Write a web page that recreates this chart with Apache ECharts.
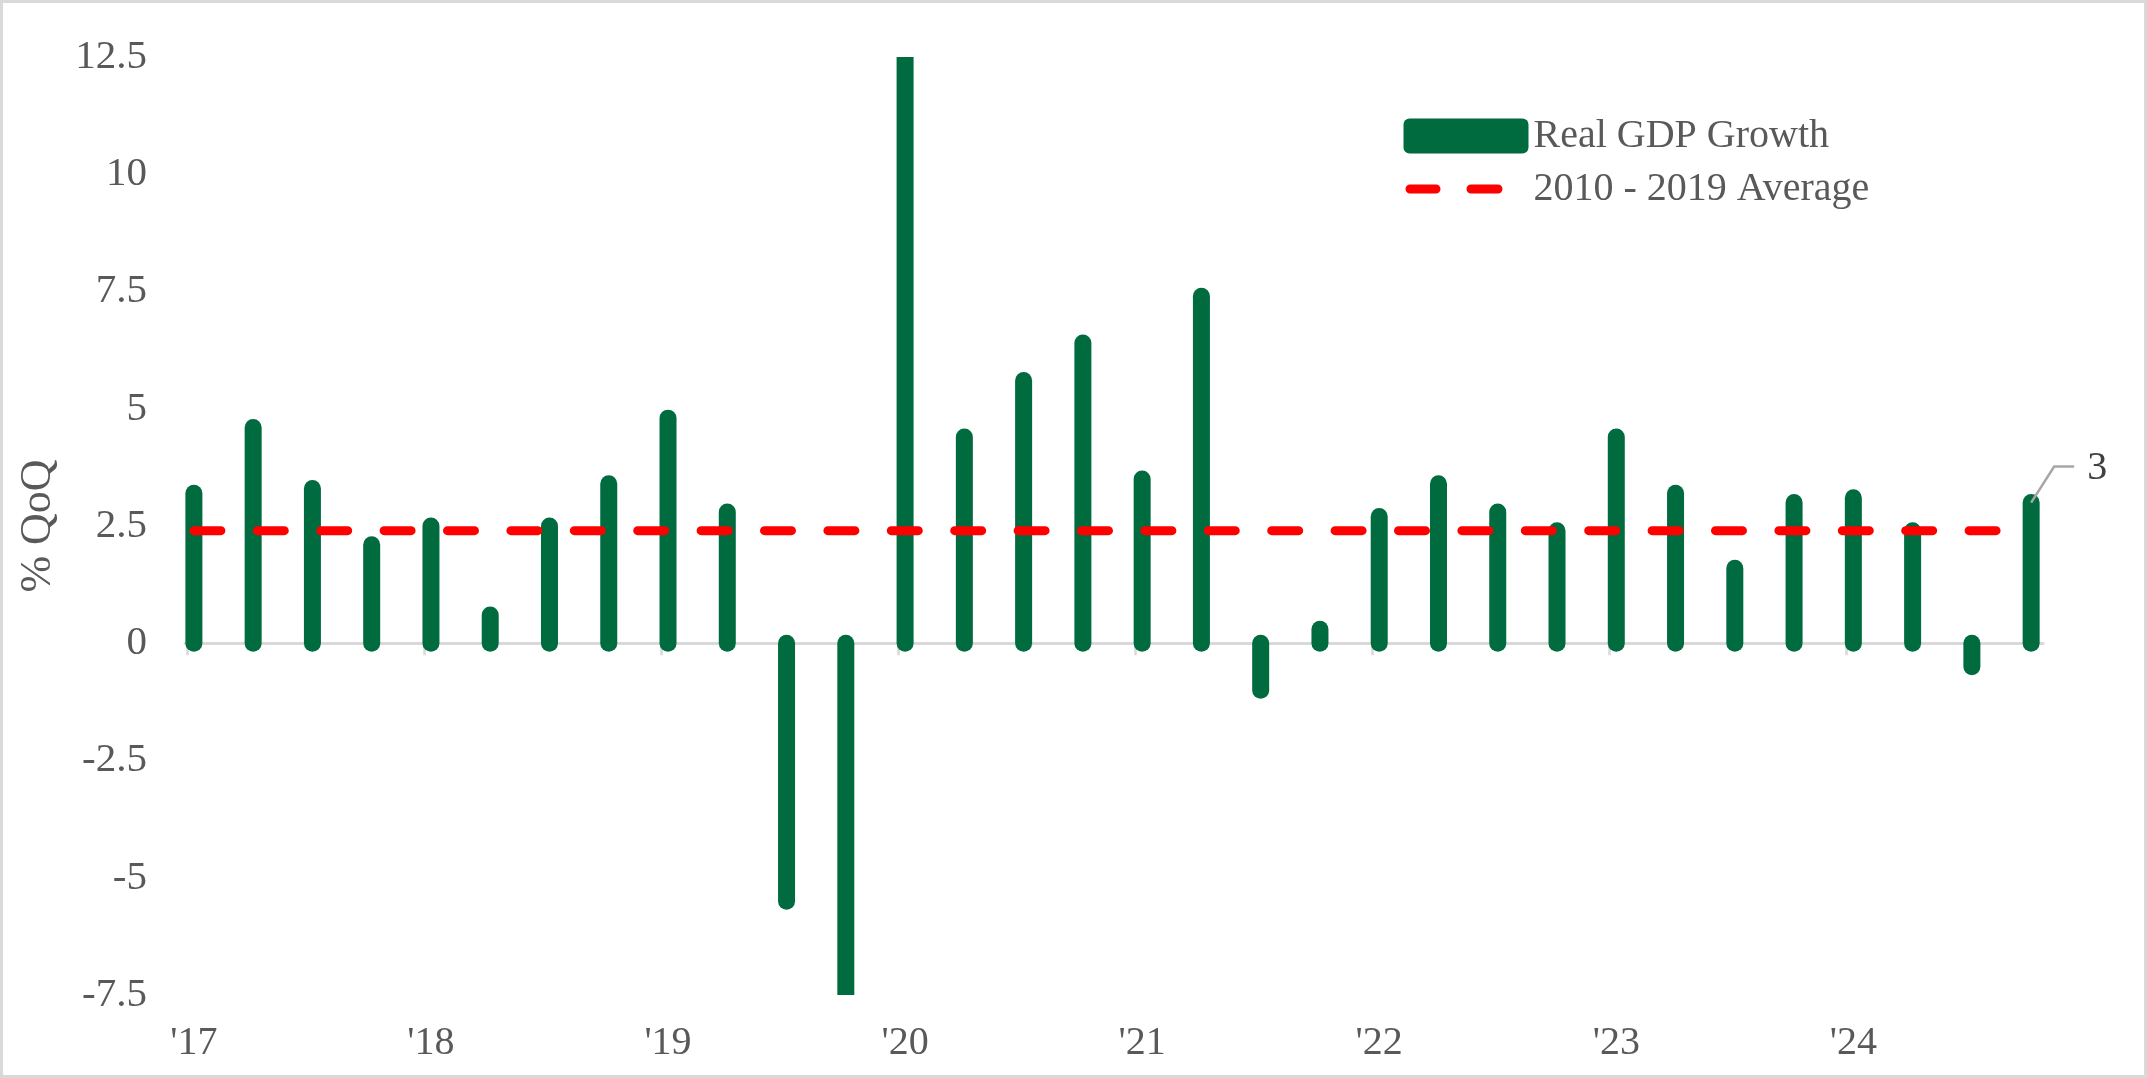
<!DOCTYPE html>
<html>
<head>
<meta charset="utf-8">
<script src="https://cdn.jsdelivr.net/npm/echarts@6/dist/echarts.min.js"></script>
<style>
  html, body { margin: 0; padding: 0; background: #fff; }
  #gdp { width: 2147px; height: 1078px; box-shadow: inset 0 0 0 3px #d9d9d9; }
</style>
</head>
<body>
<div id="gdp"></div>
<script>
// quarterly real GDP growth, % QoQ, first bar = Q1 '17, last = Q4 '24
// (bars 11 and 12 run off the axis in the original, values are a guess)
var gdpGrowth = [
  3.2, 4.6, 3.3, 2.1,
  2.5, 0.6, 2.5, 3.4,
  4.8, 2.8, -5.5, -8.0,
  13.0, 4.4, 5.6, 6.4,
  3.5, 7.4, -1.0, 0.3,
  2.7, 3.4, 2.8, 2.4,
  4.4, 3.2, 1.6, 3.0,
  3.1, 2.4, -0.5, 3.0
];
var avgGrowth = 2.4; // 2010 - 2019 average
var yearLabels = ["'17", "'18", "'19", "'20", "'21", "'22", "'23", "'24"];
var yearStarts = [0, 4, 8, 12, 16, 20, 24, 28];
var yTicks = { min: -7.5, max: 12.5, step: 2.5 };

var GREEN = '#006b3e';
var RED = '#ff0000';
var TEXT = '#595959';
var SERIF = 'Liberation Serif';
var BAR_W = 17;

// legend swatch: box with small corner radius, same size as the legend item
var BOX_ICON = 'path://M6,0H119A6,6 0 0 1 125,6V29A6,6 0 0 1 119,35H6A6,6 0 0 1 0,29V6A6,6 0 0 1 6,0Z';

var chart = echarts.init(document.getElementById('gdp'));

// excel draws these as thick lines with round caps, so do the same
function renderBar(params, api) {
  var x = api.value(0);
  var p0 = api.coord([x, 0]);
  var p1 = api.coord([x, api.value(1)]);
  return {
    type: 'line',
    shape: { x1: p0[0], y1: p0[1], x2: p1[0], y2: p1[1] },
    style: { stroke: GREEN, lineWidth: BAR_W, lineCap: 'round' }
  };
}

// data label "3" with its leader line on the last bar
function renderLastLabel(params, api) {
  var v = api.value(1);
  var p = api.coord([api.value(0), v]);
  return {
    type: 'group',
    children: [
      {
        type: 'polyline',
        shape: { points: [[p[0], p[1]], [p[0] + 23, p[1] - 36], [p[0] + 43, p[1] - 36]] },
        style: { stroke: '#a6a6a6', lineWidth: 2.5, fill: null }
      },
      {
        type: 'text',
        style: {
          x: p[0] + 56, y: p[1] - 34,
          text: String(Math.round(v)),
          fill: '#404040',
          font: '40px "' + SERIF + '"',
          align: 'left', verticalAlign: 'middle'
        }
      }
    ]
  };
}

var last = gdpGrowth.length - 1;

var option = {
  animation: false,
  grid: { left: 185, right: 104, top: 57, bottom: 83, containLabel: false },
  legend: {
    data: [
      { name: 'Real GDP Growth', icon: BOX_ICON },
      {
        name: '2010 - 2019 Average',
        itemStyle: { opacity: 0 },
        lineStyle: { width: 9, cap: 'round', type: [26, 35, 27, 300], dashOffset: -6.5 }
      }
    ],
    orient: 'vertical',
    left: 1394,
    top: 111,
    itemWidth: 125,
    itemHeight: 35,
    itemGap: 13,
    selectedMode: false,
    textStyle: { fontFamily: SERIF, fontSize: 40, color: TEXT }
  },
  xAxis: [
    {
      // year labels along the bottom
      type: 'value',
      position: 'bottom',
      min: -0.15,
      max: 31.2,
      axisLine: { show: false, onZero: false },
      axisTick: { show: false },
      splitLine: { show: false },
      axisLabel: {
        customValues: yearStarts,
        margin: 28,
        fontFamily: SERIF,
        fontSize: 40,
        color: TEXT,
        formatter: function (v) { return yearLabels[yearStarts.indexOf(v)]; }
      }
    },
    {
      // grey zero line with the year ticks
      type: 'value',
      position: 'top',
      min: -0.15,
      max: 31.2,
      axisLine: { show: true, onZero: true, lineStyle: { color: '#d9d9d9', width: 3 } },
      axisTick: {
        show: true, inside: true, length: 12,
        customValues: yearStarts.map(function (i) { return i - 0.12; }),
        lineStyle: { color: '#d9d9d9', width: 2.5 }
      },
      axisLabel: { show: false },
      splitLine: { show: false }
    }
  ],
  yAxis: {
    type: 'value',
    min: yTicks.min,
    max: yTicks.max,
    interval: yTicks.step,
    name: '% QoQ',
    nameLocation: 'middle',
    nameGap: 125,
    nameTextStyle: { fontFamily: SERIF, fontSize: 44, color: TEXT },
    axisLine: { show: false },
    axisTick: { show: false },
    splitLine: { show: false },
    axisLabel: { margin: 38, fontFamily: SERIF, fontSize: 41, color: TEXT }
  },
  series: [
    {
      name: 'Real GDP Growth',
      type: 'custom',
      xAxisIndex: 0,
      clip: true,
      itemStyle: { color: GREEN },
      data: gdpGrowth.map(function (v, i) { return [i, v]; }),
      renderItem: renderBar,
      z: 2
    },
    {
      name: '2010 - 2019 Average',
      type: 'line',
      xAxisIndex: 0,
      symbol: 'none',
      showSymbol: false,
      color: RED,
      lineStyle: { color: RED, width: 9, type: [27, 36.4], cap: 'round' },
      data: [[0, avgGrowth], [last, avgGrowth]],
      z: 3
    },
    {
      name: 'lastLabel',
      type: 'custom',
      xAxisIndex: 0,
      clip: false,
      silent: true,
      data: [[last, gdpGrowth[last]]],
      renderItem: renderLastLabel,
      z: 4
    }
  ]
};

chart.setOption(option);
</script>
</body>
</html>
